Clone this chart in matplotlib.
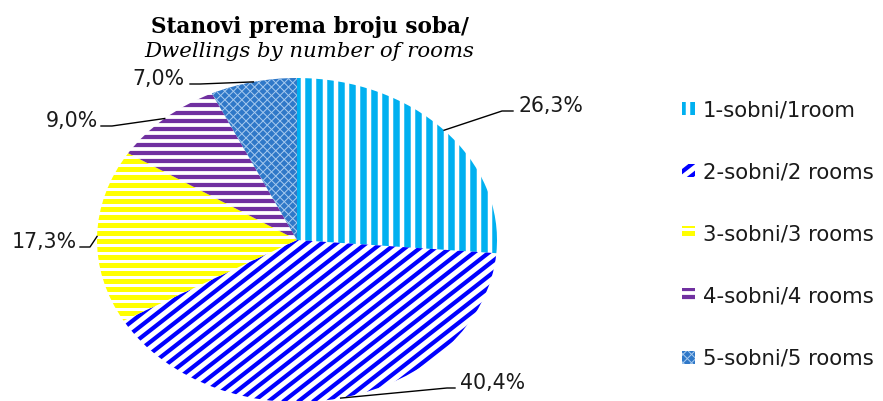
import matplotlib
matplotlib.use('Agg')
import matplotlib.pyplot as plt
from matplotlib.collections import LineCollection
from matplotlib.patches import Rectangle
from matplotlib.transforms import IdentityTransform
import numpy as np

categories = ['1-sobni/1room', '2-sobni/2 rooms', '3-sobni/3 rooms', '4-sobni/4 rooms', '5-sobni/5 rooms']
shares = [26.3, 40.4, 17.3, 9.0, 7.0]
value_labels = ['26,3%', '40,4%', '17,3%', '9,0%', '7,0%']
title_line1 = 'Stanovi prema broju soba/'
title_line2 = 'Dwellings by number of rooms'

# fill styles: background, list of stripe sets (color, angle deg, period px, width px)
styles = [
    ('white', [('#00B0F0', 90, 11.0, 6.5)]),
    ('white', [('#0000FF', 38, 9.2, 4.2)]),
    ('white', [('#FFFF00', 0, 8.0, 5.0)]),
    ('white', [('#7030A0', 0, 8.0, 4.2)]),
    ('#2F78C8', [('#A8CBEF', 45, 6.0, 1.0), ('#A8CBEF', -45, 6.0, 1.0)]),
]

W, H, DPI = 883, 401, 100
fig = plt.figure(figsize=(W / DPI, H / DPI), dpi=DPI)
fig.patch.set_facecolor('white')


def fx(px):
    return px / W


def fy(py):
    return (H - py) / H


def add_stripes(patch, stripe_sets, zorder):
    path = patch.get_transform().transform_path(patch.get_path())
    v = path.vertices
    x0, y0 = v.min(axis=0) - 2
    x1, y1 = v.max(axis=0) + 2
    corners = np.array([[x0, y0], [x0, y1], [x1, y0], [x1, y1]])
    for color, ang, per, wid in stripe_sets:
        a = np.deg2rad(ang)
        d = np.array([np.cos(a), np.sin(a)])
        n = np.array([-np.sin(a), np.cos(a)])
        s = corners @ n
        t0 = corners @ d
        segs = []
        start = np.floor(s.min() / per) * per
        for k in np.arange(start, s.max() + per, per):
            c = k * n
            segs.append([c + d * (t0.min() - 5), c + d * (t0.max() + 5)])
        lc = LineCollection(segs, colors=color, linewidths=wid * 72 / DPI,
                            transform=IdentityTransform(), zorder=zorder,
                            capstyle='butt')
        lc.set_clip_path(patch)
        fig.add_artist(lc)


# ellipse geometry in pixels (from top-left)
cx, cy, rx, ry = 297, 240, 200, 162
ax = fig.add_axes([(cx - rx) / W, (H - cy - ry) / H, 2 * rx / W, 2 * ry / H])
wedges, _ = ax.pie(shares, startangle=90, counterclock=False, radius=1,
                   wedgeprops=dict(linewidth=0))
ax.set_aspect('auto')
ax.set_xlim(-1, 1)
ax.set_ylim(-1, 1)
ax.axis('off')
for w, (bg, sets) in zip(wedges, styles):
    w.set_facecolor(bg)
    w.set_edgecolor('none')
    add_stripes(w, sets, zorder=2)

lab_font = dict(family=['DejaVu Sans'], size=14.8, color='#1a1a1a')

# label layout: (text x, baseline y, ha, elbow x, end x)
layout = [
    (518, 112, 'left', 502, 513),
    (460, 389, 'left', 447, 455),
    (77, 248, 'right', 90, 80),
    (98, 127, 'right', 112, 101),
    (184, 85, 'right', 200, 190),
]
cum = np.cumsum([0] + shares[:-1])
for i, (tx, by, ha, ex, endx) in enumerate(layout):
    mid = 90 - (cum[i] + shares[i] / 2) * 3.6
    ang = np.deg2rad(mid)
    axp = cx + rx * np.cos(ang)
    ayp = cy - ry * np.sin(ang)
    fig.add_artist(plt.Line2D([fx(axp), fx(ex), fx(endx)], [fy(ayp), fy(by - 1), fy(by - 1)],
                              color='black', lw=1.0, transform=fig.transFigure, zorder=5))
    fig.text(fx(tx), fy(by), value_labels[i], ha=ha, va='baseline', zorder=6, **lab_font)

fig.text(fx(310), fy(33), title_line1, ha='center', va='baseline',
         family='DejaVu Serif', weight='bold', size=15.6)
fig.text(fx(309), fy(57), title_line2, ha='center', va='baseline',
         family='DejaVu Serif', style='italic', size=15.3)

# legend (manual, same fill styles as the slices)
for i, (cat, (bg, sets)) in enumerate(zip(categories, styles)):
    yc = 108 + 62.25 * i
    sq = Rectangle((682, H - yc - 6.5), 13, 13, transform=IdentityTransform(),
                   facecolor=bg, edgecolor='none', zorder=3)
    fig.add_artist(sq)
    add_stripes(sq, sets, zorder=4)
    fig.text(fx(703), fy(yc), cat, ha='left', va='center_baseline',
             family=['DejaVu Sans'], size=15.3, color='#1a1a1a')

fig.savefig('out.png', dpi=DPI, facecolor='white')
